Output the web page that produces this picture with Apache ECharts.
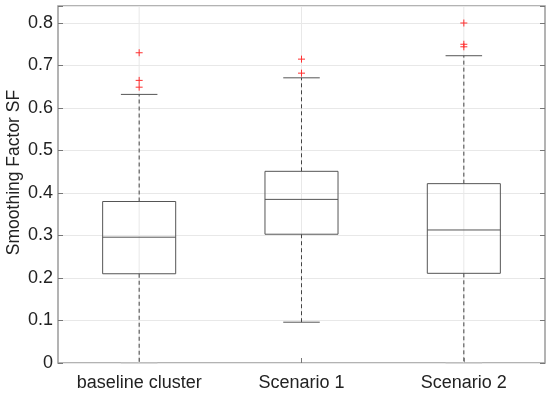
<!DOCTYPE html>
<html><head><meta charset="utf-8">
<script src="https://cdn.jsdelivr.net/npm/echarts@6/dist/echarts.min.js"></script>
<style>html,body{margin:0;padding:0;background:#fff}#c{width:550px;height:394px}</style>
</head><body><div id="c"></div>
<script>
var categories = ['baseline cluster', 'Scenario 1', 'Scenario 2'];
var lowerWhisker = [0, 0.096, 0];
var q1 = [0.210, 0.303, 0.211];
var median = [0.296, 0.385, 0.313];
var q3 = [0.380, 0.451, 0.422];
var upperWhisker = [0.632, 0.671, 0.723];
var outliers = [[0.730, 0.665, 0.649], [0.715, 0.682], [0.800, 0.750, 0.744]];
var yTicks = [0, 0.1, 0.2, 0.3, 0.4, 0.5, 0.6, 0.7, 0.8];
var yMax = 0.84;

var boxData = categories.map(function (c, i) {
  return [i, lowerWhisker[i], q1[i], median[i], q3[i], upperWhisker[i]];
});
var outData = [];
outliers.forEach(function (arr, i) { arr.forEach(function (v) { outData.push([i, v]); }); });

var FONT = 'Liberation Sans, Arial, sans-serif';
var chart = echarts.init(document.getElementById('c'), null, {renderer: 'canvas'});
chart.setOption({
  animation: false,
  grid: {left: 58, right: 5, top: 6, bottom: 31, show: true, borderColor: '#9a9a9a', borderWidth: 1.5,
         containLabel: false, outerBoundsMode: 'none'},
  xAxis: {
    type: 'category', data: categories, boundaryGap: true,
    axisLine: {show: false},
    axisTick: {show: true, inside: true, alignWithLabel: true, interval: 0, length: 5, lineStyle: {color: '#777'}},
    axisLabel: {fontFamily: FONT, fontSize: 18, color: '#222', margin: 11, interval: 0},
    splitLine: {show: false}
  },
  yAxis: [{
    type: 'value', min: 0, max: yMax, interval: 0.1,
    name: 'Smoothing Factor SF', nameLocation: 'middle', nameGap: 35, nameMoveOverlap: false,
    nameTextStyle: {fontFamily: FONT, fontSize: 17.5, color: '#222', padding: [0, 0, 0, 24]},
    axisLine: {show: false},
    axisTick: {show: true, inside: true, length: 5, lineStyle: {color: '#777'}},
    axisLabel: {fontFamily: FONT, fontSize: 18, color: '#222', margin: 5,
      formatter: function (v) { var r = Math.round(v * 10) / 10; return (Math.abs(v - r) < 1e-6 && yTicks.indexOf(r) >= 0) ? String(r) : ''; }},
    splitLine: {show: true, lineStyle: {color: '#e8e8e8', width: 1}}
  }, {
    type: 'value', min: 0, max: yMax, interval: 0.1, position: 'right',
    axisLine: {show: false},
    axisTick: {show: true, inside: true, length: 5, lineStyle: {color: '#777'}},
    axisLabel: {show: false}, splitLine: {show: false}
  }],
  series: [{
    type: 'custom',
    data: boxData,
    encode: {x: 0, y: [1, 2, 3, 4, 5]},
    z: 2,
    renderItem: function (params, api) {
      var i = api.value(0);
      var bw = api.size([1, 0])[0] * 0.45;
      var cw = bw / 2;
      var pLW = api.coord([i, api.value(1)]);
      var pQ1 = api.coord([i, api.value(2)]);
      var pMed = api.coord([i, api.value(3)]);
      var pQ3 = api.coord([i, api.value(4)]);
      var pUW = api.coord([i, api.value(5)]);
      var pTop = api.coord([i, yMax]);
      var x = pMed[0];
      var boxStyle = {stroke: '#555', lineWidth: 1, fill: null};
      var dash = {stroke: '#444', lineWidth: 1, lineDash: [4, 3]};
      var lowCapStyle = api.value(1) <= 0 ? {stroke: '#c8c8c8', lineWidth: 1} : boxStyle;
      return {
        type: 'group',
        children: [
          {type: 'line', shape: {x1: x, y1: pTop[1], x2: x, y2: pLW[1]}, style: {stroke: '#e8e8e8', lineWidth: 1}, z2: 0},
          {type: 'line', shape: {x1: x, y1: pQ3[1], x2: x, y2: pUW[1]}, style: dash, z2: 1},
          {type: 'line', shape: {x1: x, y1: pQ1[1], x2: x, y2: pLW[1]}, style: dash, z2: 1},
          {type: 'line', shape: {x1: x - cw / 2, y1: pUW[1], x2: x + cw / 2, y2: pUW[1]}, style: boxStyle, z2: 2},
          {type: 'line', shape: {x1: x - cw / 2, y1: pLW[1], x2: x + cw / 2, y2: pLW[1]}, style: lowCapStyle, z2: 2},
          {type: 'rect', shape: {x: x - bw / 2, y: pQ3[1], width: bw, height: pQ1[1] - pQ3[1]}, style: boxStyle, z2: 2},
          {type: 'line', shape: {x1: x - bw / 2, y1: pMed[1], x2: x + bw / 2, y2: pMed[1]}, style: boxStyle, z2: 2}
        ]
      };
    }
  }, {
    type: 'custom',
    data: outData,
    encode: {x: 0, y: 1},
    z: 3,
    renderItem: function (params, api) {
      var p = api.coord([api.value(0), api.value(1)]);
      var s = 3.5;
      var st = {stroke: '#ff3030', lineWidth: 1};
      return {
        type: 'group',
        children: [
          {type: 'line', shape: {x1: p[0] - s, y1: p[1], x2: p[0] + s, y2: p[1]}, style: st},
          {type: 'line', shape: {x1: p[0], y1: p[1] - s, x2: p[0], y2: p[1] + s}, style: st}
        ]
      };
    }
  }]
});
</script></body></html>
